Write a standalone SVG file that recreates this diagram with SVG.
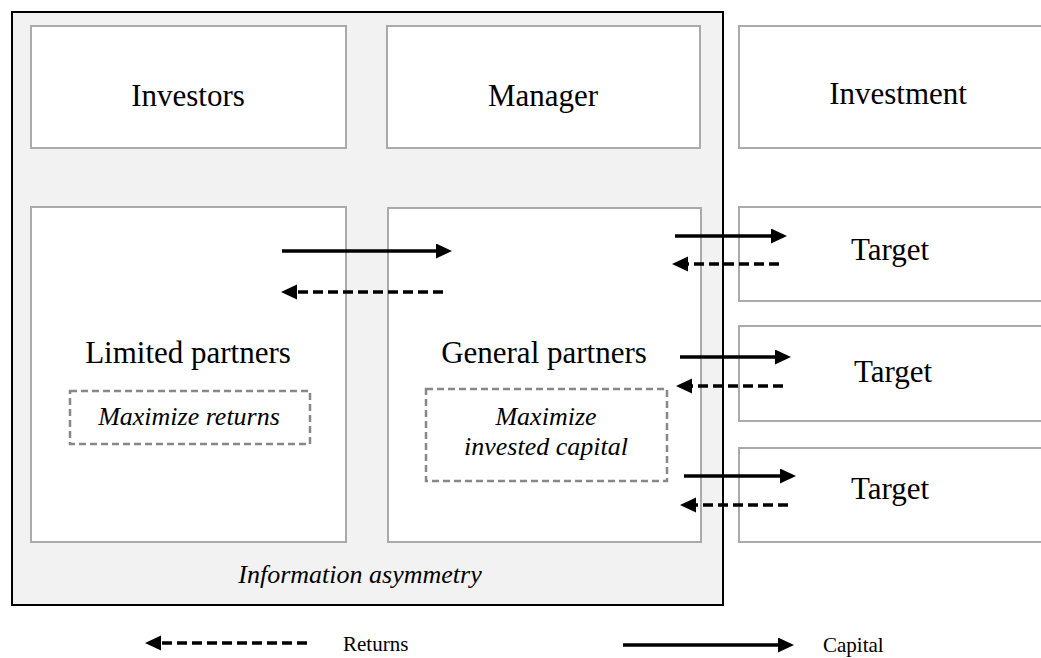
<svg xmlns="http://www.w3.org/2000/svg" width="1041" height="658" viewBox="0 0 1041 658">
<style>
.box{fill:#ffffff;stroke:#aaaaaa;stroke-width:2}
.goal{fill:none;stroke:#888888;stroke-width:2.5;stroke-dasharray:7 4}
.t{font-family:"Liberation Serif","Times New Roman",serif;font-size:31px;fill:#000;text-anchor:middle}
.i{font-family:"Liberation Serif","Times New Roman",serif;font-size:26px;font-style:italic;fill:#000;text-anchor:middle}
.l{font-family:"Liberation Serif","Times New Roman",serif;font-size:21px;fill:#000}
.cap{stroke:#000;stroke-width:3.5;fill:none;marker-end:url(#ah)}
.ret{stroke:#000;stroke-width:3.5;fill:none;stroke-dasharray:10 5;marker-end:url(#ah)}
</style>
<defs>
<marker id="ah" markerUnits="userSpaceOnUse" markerWidth="17" markerHeight="16" refX="2" refY="7.5" orient="auto">
<path d="M0,0 L16,7.5 L0,15 z" fill="#000"/>
</marker>
</defs>
<rect width="1041" height="658" fill="#ffffff"/>
<g id="fund">
<rect x="12" y="12" width="711" height="593" fill="#f2f2f2" stroke="#000" stroke-width="2"/>
<text class="i" x="360" y="583">Information asymmetry</text>
</g>
<g id="investors">
<rect class="box" x="31" y="26" width="315" height="122"/>
<text class="t" x="188" y="106">Investors</text>
</g>
<g id="manager">
<rect class="box" x="387" y="26" width="313" height="122"/>
<text class="t" x="543" y="106">Manager</text>
</g>
<g id="investment">
<rect class="box" x="739" y="26" width="320" height="122"/>
<text class="t" x="898" y="104">Investment</text>
</g>
<g id="limited-partners">
<rect class="box" x="31" y="207" width="315" height="335"/>
<text class="t" x="188" y="363">Limited partners</text>
<rect class="goal" x="70" y="391" width="240" height="53"/>
<text class="i" x="189" y="425">Maximize returns</text>
</g>
<g id="general-partners">
<rect class="box" x="388" y="208" width="313" height="334"/>
<text class="t" x="544" y="363">General partners</text>
<rect class="goal" x="426" y="389" width="241" height="92"/>
<text class="i" x="546" y="425">Maximize</text>
<text class="i" x="546" y="455">invested capital</text>
</g>
<g id="target1">
<rect class="box" x="739" y="207" width="320" height="94"/>
<text class="t" x="890" y="260">Target</text>
</g>
<g id="target2">
<rect class="box" x="739" y="326" width="320" height="95"/>
<text class="t" x="893" y="382">Target</text>
</g>
<g id="target3">
<rect class="box" x="739" y="448" width="320" height="94"/>
<text class="t" x="890" y="499">Target</text>
</g>
<g id="connectors">
<line class="cap" x1="282" y1="251" x2="438" y2="251"/>
<line class="ret" x1="443" y1="292" x2="295" y2="292"/>
<line class="cap" x1="675" y1="236" x2="773" y2="236"/>
<line class="ret" x1="779" y1="264" x2="686" y2="264"/>
<line class="cap" x1="680" y1="357" x2="777" y2="357"/>
<line class="ret" x1="783" y1="386" x2="690" y2="386"/>
<line class="cap" x1="684" y1="476" x2="782" y2="476"/>
<line class="ret" x1="788" y1="505" x2="694" y2="505"/>
</g>
<g id="legend">
<line class="ret" x1="307" y1="643" x2="159" y2="643"/>
<text class="l" x="343" y="651">Returns</text>
<line class="cap" x1="623" y1="645" x2="780" y2="645"/>
<text class="l" x="823" y="652">Capital</text>
</g>
</svg>
